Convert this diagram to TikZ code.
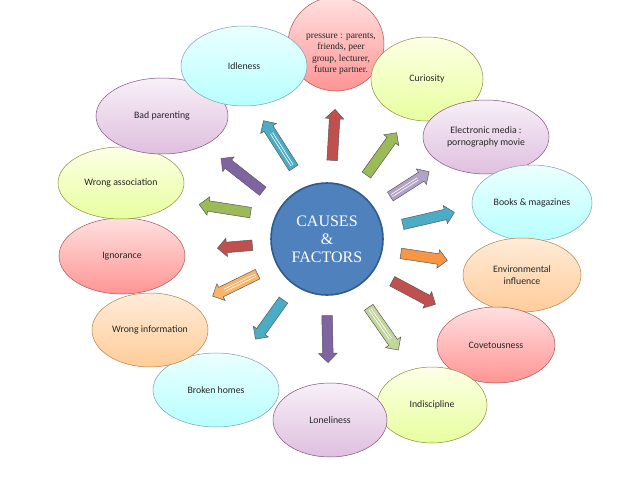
\documentclass[tikz,border=0pt]{standalone}
\usepackage{fontspec}
\setmainfont{Liberation Serif}
\newfontfamily\calib{Carlito}
\usetikzlibrary{shapes.geometric,shapes.arrows,calc}
\definecolor{redA}{HTML}{C0504D}
\definecolor{cyanA}{HTML}{4BACC6}
\definecolor{purA}{HTML}{8064A2}
\definecolor{grnA}{HTML}{9BBB59}
\definecolor{oraA}{HTML}{F79646}
\definecolor{oraL}{HTML}{F9B46A}
\definecolor{grnL}{HTML}{C3D69B}
\definecolor{lavA}{HTML}{B3A2C7}
\definecolor{blueC}{HTML}{4F81BD}
\definecolor{blueD}{HTML}{2F5B8F}
\begin{document}
\begin{tikzpicture}[x=1pt,y=-1pt,
  ell/.style={ellipse, inner sep=0pt, line width=0.5pt, font=\calib\fontsize{9.8}{12}\selectfont, text=black!85, align=center},
  pinkE/.style={ell, draw=red!35!gray, top color=red!12, bottom color=red!42!white},
  grnE/.style={ell, draw=olive!55!gray, top color=green!8!yellow!10, bottom color=green!25!yellow!38},
  lavE/.style={ell, draw=violet!35!gray, top color=violet!6, bottom color=violet!25},
  bluE/.style={ell, draw=cyan!35!gray, top color=cyan!8, bottom color=cyan!28},
  oraE/.style={ell, draw=orange!45!gray, top color=orange!15, bottom color=orange!40},
  arr/.style={single arrow, single arrow head extend=4pt, minimum width=18pt, inner xsep=0pt, inner ysep=5pt, draw=black!65, line width=0.5pt, sloped, allow upside down, midway},
  stripe/.style={draw=white, line width=0.8pt, double=#1, double distance=1.6pt}
]
\useasboundingbox (0,0) rectangle (638,479);
\fill[white] (0,0) rectangle (638,479);
% ellipses
\node[pinkE, minimum width=96pt, minimum height=94pt] (e1) at (336,44) {};
\node[font=\fontsize{9.5}{11.5}\selectfont, align=center, text=black!85] (t1) at (341,54) {pressure : parents,\\friends, peer\\group, lecturer,\\future partner.};
\node[grnE, minimum width=112pt, minimum height=84pt] (e2) at (427,79) {Curiosity};
\node[lavE, minimum width=126pt, minimum height=74pt] (e3) at (486,137) {Electronic media :\\pornography movie};
\node[bluE, minimum width=120pt, minimum height=76pt] (e4) at (532,203) {Books \& magazines};
\node[oraE, minimum width=118pt, minimum height=74pt] (e5) at (522,275) {Environmental\\influence};
\node[pinkE, minimum width=118pt, minimum height=76pt] (e6) at (496,345) {Covetousness};
\node[grnE, minimum width=110pt, minimum height=76pt] (e7) at (432,405) {Indiscipline};
\node[lavE, minimum width=114pt, minimum height=74pt] (e8) at (330,420) {Loneliness};
\node[bluE, minimum width=126pt, minimum height=74pt] (e9) at (216,390) {Broken homes};
\node[oraE, minimum width=116pt, minimum height=74pt] (e10) at (150,330) {Wrong information};
\node[pinkE, minimum width=126pt, minimum height=76pt] (e11) at (122,256) {Ignorance};
\node[grnE, minimum width=126pt, minimum height=72pt] (e12) at (121,183) {Wrong association};
\node[lavE, minimum width=132pt, minimum height=76pt] (e13) at (162,116) {Bad parenting};
\node[bluE, minimum width=126pt, minimum height=80pt] (e14) at (244,66) {Idleness};
% center
\node[circle, minimum size=112pt, inner sep=0pt, fill=blueC, draw=blueD, line width=1.6pt, text=white, font=\fontsize{16}{18}\selectfont, align=center] (c) at (327,239) {CAUSES\\\&\\FACTORS};
% arrow end points
\coordinate (t1a) at (332,163);  \coordinate (h1a) at (335,112);
\coordinate (t2a) at (295,170);  \coordinate (h2a) at (265,123);
\coordinate (t3a) at (265,193);  \coordinate (h3a) at (223,160);
\coordinate (t4a) at (253,213);  \coordinate (h4a) at (202,205);
\coordinate (t5a) at (255,245);  \coordinate (h5a) at (220,248);
\coordinate (t6a) at (260,273);  \coordinate (h6a) at (215,295);
\coordinate (t7a) at (285,298);  \coordinate (h7a) at (257,337);
\coordinate (t8a) at (327,313);  \coordinate (h8a) at (328,360);
\coordinate (t9a) at (367,305);  \coordinate (h9a) at (397,348);
\coordinate (t10a) at (390,280); \coordinate (h10a) at (433,303);
\coordinate (t11a) at (398,253); \coordinate (h11a) at (445,260);
\coordinate (t12a) at (400,225); \coordinate (h12a) at (452,213);
\coordinate (t13a) at (388,198); \coordinate (h13a) at (427,173);
\coordinate (t14a) at (365,177); \coordinate (h14a) at (395,135);
% arrows
\path (t1a) -- (h1a) node[arr, minimum height=51pt, fill=redA] (a1) {};
\path (t2a) -- (h2a) node[arr, minimum height=56pt, fill=cyanA] (a2) {};
\path (t3a) -- (h3a) node[arr, minimum height=53pt, fill=purA] (a3) {};
\path (t4a) -- (h4a) node[arr, minimum height=52pt, fill=grnA] (a4) {};
\path (t5a) -- (h5a) node[arr, minimum height=35pt, fill=redA] (a5) {};
\path (t6a) -- (h6a) node[arr, minimum height=50pt, fill=oraL] (a6) {};
\path (t7a) -- (h7a) node[arr, minimum height=48pt, fill=cyanA] (a7) {};
\path (t8a) -- (h8a) node[arr, minimum height=47pt, fill=purA] (a8) {};
\path (t9a) -- (h9a) node[arr, minimum height=52pt, fill=grnL] (a9) {};
\path (t10a) -- (h10a) node[arr, minimum height=49pt, fill=redA] (a10) {};
\path (t11a) -- (h11a) node[arr, minimum height=47pt, fill=oraA] (a11) {};
\path (t12a) -- (h12a) node[arr, minimum height=53pt, fill=cyanA] (a12) {};
\path (t13a) -- (h13a) node[arr, minimum height=46pt, fill=lavA] (a13) {};
\path (t14a) -- (h14a) node[arr, minimum height=52pt, fill=grnA] (a14) {};
% stripes
\draw[stripe=cyanA] ($(t2a)!0.1!(h2a)$) -- ($(t2a)!0.78!(h2a)$);
\draw[stripe=oraL] ($(t6a)!0.1!(h6a)$) -- ($(t6a)!0.78!(h6a)$);
\draw[stripe=grnL] ($(t9a)!0.1!(h9a)$) -- ($(t9a)!0.78!(h9a)$);
\draw[stripe=lavA] ($(t13a)!0.1!(h13a)$) -- ($(t13a)!0.76!(h13a)$);
\end{tikzpicture}
\end{document}
